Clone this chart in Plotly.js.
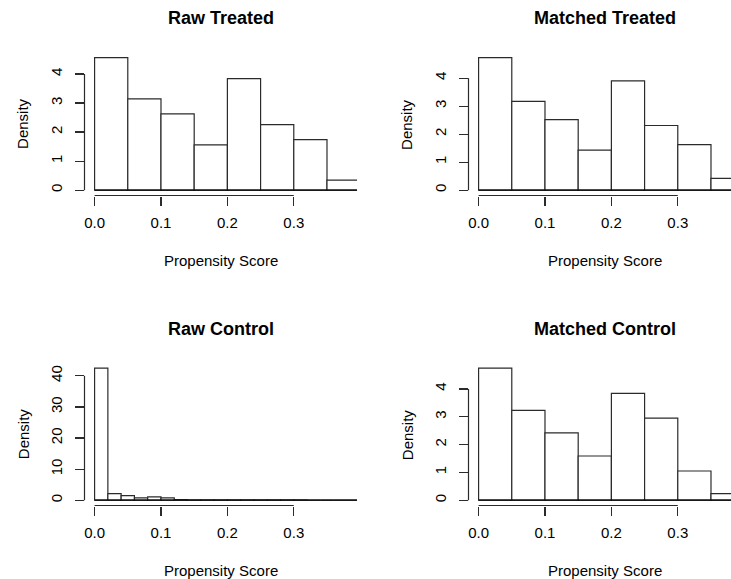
<!DOCTYPE html>
<html>
<head>
<meta charset="utf-8">
<script src="https://cdn.plot.ly/plotly-3.0.1.min.js"></script>
<style>html,body{margin:0;padding:0;background:#fff;}#chart{width:731px;height:579px;}</style>
</head>
<body>
<div id="chart"></div>
<script>
// ---- data ----
const panelTitles = ["Raw Treated", "Matched Treated", "Raw Control", "Matched Control"];
const xLabel = "Propensity Score";
const yLabel = "Density";

const breaksWide = [0, 0.05, 0.10, 0.15, 0.20, 0.25, 0.30, 0.35, 0.40];
const breaksNarrow = [0, 0.02, 0.04, 0.06, 0.08, 0.10, 0.12, 0.14, 0.16, 0.18, 0.20,
                      0.22, 0.24, 0.26, 0.28, 0.30, 0.32, 0.34, 0.36, 0.38, 0.40];

const rawTreated     = [4.56, 3.14, 2.63, 1.56, 3.84, 2.26, 1.74, 0.35];
const matchedTreated = [4.73, 3.17, 2.52, 1.43, 3.90, 2.31, 1.63, 0.42];
const rawControl     = [42.5, 2.15, 1.50, 0.75, 1.07, 0.75, 0.20, 0.15, 0.15, 0.12,
                        0.12, 0.12, 0.10, 0.12, 0.10, 0.10, 0, 0, 0, 0];
const matchedControl = [4.75, 3.23, 2.42, 1.59, 3.84, 2.95, 1.05, 0.24];

const xTickVals = [0, 0.1, 0.2, 0.3];
const xTickText = ["0.0", "0.1", "0.2", "0.3"];
const yTicksSmall = [0, 1, 2, 3, 4];
const yTicksLarge = [0, 10, 20, 30, 40];
const xLim = [0, 0.38];

// ---- layout geometry (pixels) ----
const W = 731, H = 579;
const colPx = [[84.5, 357], [468.5, 741]];
const rowPx = [[52.4, 195.5], [362.8, 505.5]];
const FONT = "Liberation Sans, Arial, sans-serif";
const LINE = "#2b2b2b";
const LW = 1.2;

const panels = [
  {title: panelTitles[0], breaks: breaksWide,   dens: rawTreated,     yt: yTicksSmall, col: 0, row: 0},
  {title: panelTitles[1], breaks: breaksWide,   dens: matchedTreated, yt: yTicksSmall, col: 1, row: 0},
  {title: panelTitles[2], breaks: breaksNarrow, dens: rawControl,     yt: yTicksLarge, col: 0, row: 1},
  {title: panelTitles[3], breaks: breaksWide,   dens: matchedControl, yt: yTicksSmall, col: 1, row: 1}
];

const traces = [];
const layout = {
  width: W, height: H,
  margin: {l: 0, r: 0, t: 0, b: 0},
  paper_bgcolor: "#fff", plot_bgcolor: "#fff",
  showlegend: false,
  font: {family: FONT, size: 15, color: "#000"},
  shapes: [], annotations: []
};

panels.forEach((p, i) => {
  const n = i + 1;
  const xa = "x" + (n === 1 ? "" : n), ya = "y" + (n === 1 ? "" : n);
  const xk = "xaxis" + (n === 1 ? "" : n), yk = "yaxis" + (n === 1 ? "" : n);

  const centers = [], widths = [];
  for (let k = 0; k < p.dens.length; k++) {
    centers.push((p.breaks[k] + p.breaks[k + 1]) / 2);
    widths.push(p.breaks[k + 1] - p.breaks[k]);
  }
  traces.push({
    type: "bar", x: centers, y: p.dens, width: widths,
    xaxis: xa, yaxis: ya,
    marker: {color: "#fff", line: {color: LINE, width: LW}},
    hoverinfo: "x+y"
  });

  // R-style 4% range extension
  const xext = (xLim[1] - xLim[0]) * 0.04;
  const xr = [xLim[0] - xext, xLim[1] + xext];
  const cpx = colPx[p.col];
  const fullW = cpx[1] - cpx[0];
  const visEnd = Math.min(cpx[1], W);
  const xrEnd = xr[0] + (xr[1] - xr[0]) * (visEnd - cpx[0]) / fullW;

  const ymax = Math.max(...p.dens);
  const yext = ymax * 0.04;
  const yr = [-yext, ymax + yext];
  const rpx = rowPx[p.row];
  const xdom = [cpx[0] / W, visEnd / W];
  const ydom = [1 - rpx[1] / H, 1 - rpx[0] / H];

  layout[xk] = {
    domain: xdom,
    range: [xr[0], xrEnd],
    anchor: ya,
    showgrid: false, zeroline: false, showline: false,
    ticks: "outside", ticklen: 9, tickwidth: LW, tickcolor: LINE,
    tickvals: xTickVals, ticktext: xTickText,
    tickfont: {family: FONT, size: 15, color: "#000"},
    ticklabelstandoff: 4,
    fixedrange: true
  };
  layout[yk] = {
    domain: ydom,
    range: yr,
    anchor: xa,
    showgrid: false, zeroline: false, showline: false,
    ticks: "outside", ticklen: 9, tickwidth: LW, tickcolor: LINE,
    tickvals: p.yt, ticktext: p.yt.map(String),
    tickangle: -90,
    tickfont: {family: FONT, size: 15, color: "#000"},
    ticklabelstandoff: 7,
    fixedrange: true
  };

  // detached R-style axis lines spanning the tick range (paper coords via the axis mapping)
  const toPaperX = v => xdom[0] + (v - xr[0]) / (xrEnd - xr[0]) * (xdom[1] - xdom[0]);
  const toPaperY = v => ydom[0] + (v - yr[0]) / (yr[1] - yr[0]) * (ydom[1] - ydom[0]);
  layout.shapes.push({type: "line", xref: "paper", yref: "paper",
    x0: toPaperX(xTickVals[0]), x1: toPaperX(xTickVals[xTickVals.length - 1]),
    y0: ydom[0], y1: ydom[0],
    line: {color: LINE, width: LW}});
  layout.shapes.push({type: "line", xref: "paper", yref: "paper",
    x0: xdom[0], x1: xdom[0],
    y0: toPaperY(p.yt[0]), y1: toPaperY(p.yt[p.yt.length - 1]),
    line: {color: LINE, width: LW}});
  // histogram baseline
  layout.shapes.push({type: "line", xref: xa, yref: ya,
    x0: p.breaks[0], x1: p.breaks[p.breaks.length - 1], y0: 0, y1: 0,
    line: {color: "#000", width: LW}});

  const cx = (cpx[0] + cpx[1]) / 2 / W;
  const ymid = 1 - (rpx[0] + rpx[1]) / 2 / H;
  layout.annotations.push({text: "<b>" + p.title + "</b>", xref: "paper", yref: "paper",
    x: cx, y: 1 - (rpx[0] - 34) / H, xanchor: "center", yanchor: "middle", showarrow: false,
    font: {family: FONT, size: 18, color: "#000"}});
  layout.annotations.push({text: xLabel, xref: "paper", yref: "paper",
    x: cx, y: 1 - (rpx[1] + 65) / H, xanchor: "center", yanchor: "middle", showarrow: false,
    font: {family: FONT, size: 15, color: "#000"}});
  layout.annotations.push({text: yLabel, xref: "paper", yref: "paper",
    x: (cpx[0] - 61.5) / W, y: ymid, xanchor: "center", yanchor: "middle", showarrow: false,
    textangle: -90, font: {family: FONT, size: 15, color: "#000"}});
});

Plotly.newPlot("chart", traces, layout, {displayModeBar: false, staticPlot: true});
</script>
</body>
</html>
